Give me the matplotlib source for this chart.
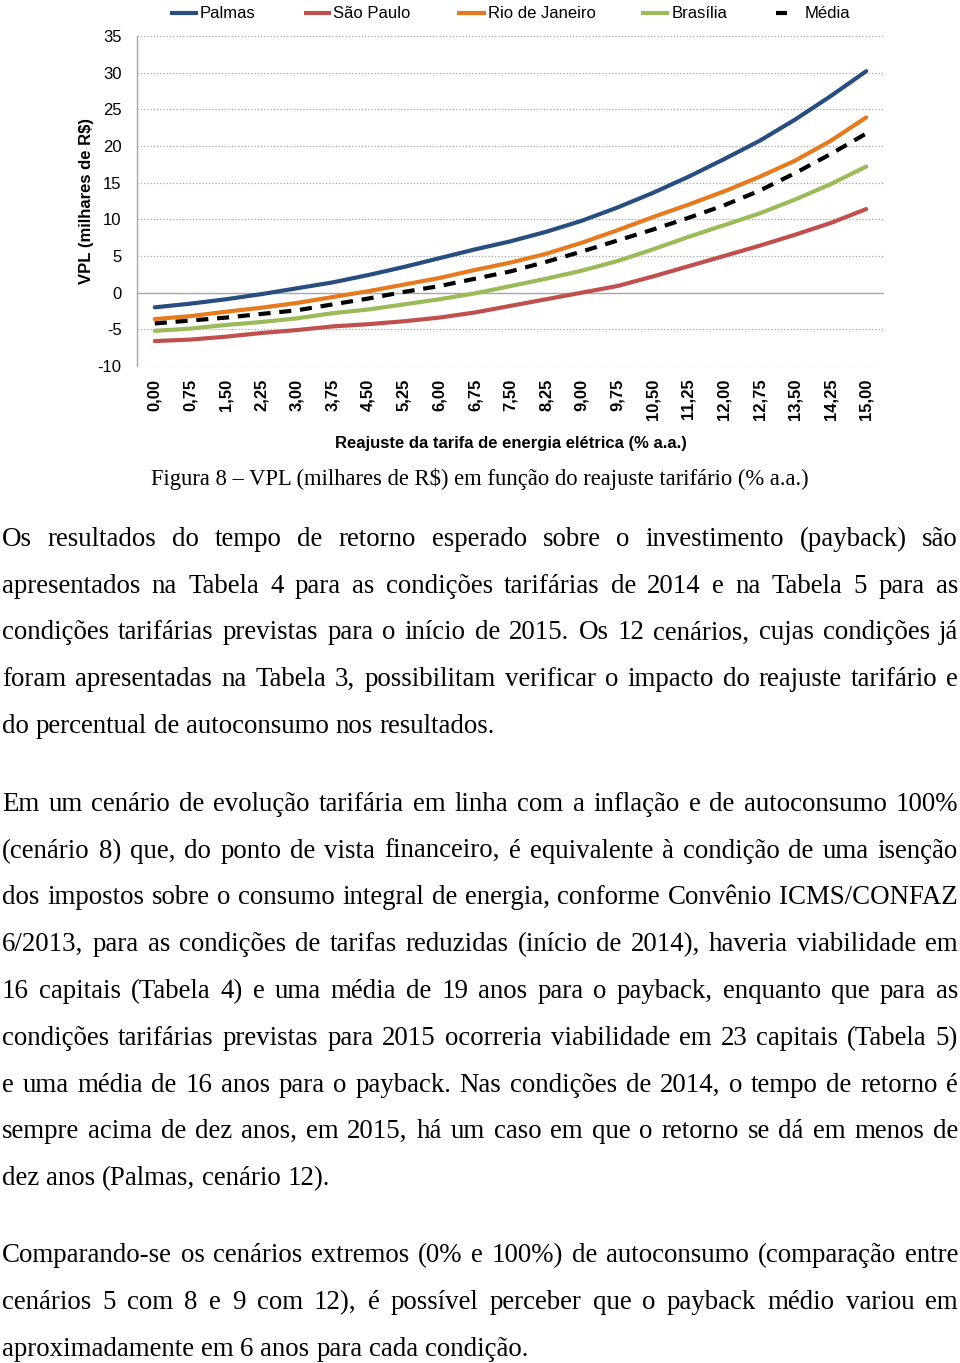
import matplotlib
matplotlib.use('Agg')
import matplotlib.pyplot as plt
from matplotlib.lines import Line2D
import numpy as np

plt.rcParams['axes.unicode_minus'] = False
plt.rcParams['font.family'] = ['Liberation Sans', 'DejaVu Sans']

# ---------------- data ----------------
reajuste = ['0,00', '0,75', '1,50', '2,25', '3,00', '3,75', '4,50', '5,25', '6,00', '6,75',
            '7,50', '8,25', '9,00', '9,75', '10,50', '11,25', '12,00', '12,75', '13,50',
            '14,25', '15,00']
series_names = ['Palmas', 'São Paulo', 'Rio de Janeiro', 'Brasília', 'Média']
palmas = [-2.0, -1.5, -0.9, -0.2, 0.6, 1.4, 2.4, 3.5, 4.7, 5.9, 7.0, 8.3, 9.8, 11.6,
          13.6, 15.8, 18.2, 20.7, 23.6, 26.8, 30.2]
sao_paulo = [-6.6, -6.4, -6.0, -5.5, -5.1, -4.6, -4.3, -3.9, -3.4, -2.7, -1.8, -0.9,
             0.0, 0.9, 2.2, 3.6, 5.0, 6.4, 7.9, 9.5, 11.4]
rio_de_janeiro = [-3.6, -3.2, -2.6, -2.05, -1.4, -0.6, 0.2, 1.1, 2.0, 3.1, 4.1, 5.3,
                  6.8, 8.5, 10.3, 12.0, 13.8, 15.8, 18.0, 20.7, 23.9]
brasilia = [-5.2, -4.9, -4.4, -4.0, -3.5, -2.8, -2.3, -1.6, -0.9, -0.1, 0.9, 1.9,
            3.0, 4.3, 5.9, 7.6, 9.2, 10.8, 12.7, 14.8, 17.2]
media = [-4.2, -3.8, -3.4, -2.9, -2.4, -1.6, -0.8, 0.1, 0.9, 1.9, 2.9, 4.2, 5.6,
         7.1, 8.6, 10.2, 11.9, 13.9, 16.3, 18.9, 21.7]
yticks = [-10, -5, 0, 5, 10, 15, 20, 25, 30, 35]

caption = 'Figura 8 – VPL (milhares de R$) em função do reajuste tarifário (% a.a.)'
paragraphs = [
    ['Os resultados do tempo de retorno esperado sobre o investimento (payback) são',
     'apresentados na Tabela 4 para as condições tarifárias de 2014 e na Tabela 5 para as',
     'condições tarifárias previstas para o início de 2015. Os 12 cenários, cujas condições já',
     'foram apresentadas na Tabela 3, possibilitam verificar o impacto do reajuste tarifário e',
     'do percentual de autoconsumo nos resultados.'],
    ['Em um cenário de evolução tarifária em linha com a inflação e de autoconsumo 100%',
     '(cenário 8) que, do ponto de vista financeiro, é equivalente à condição de uma isenção',
     'dos impostos sobre o consumo integral de energia, conforme Convênio ICMS/CONFAZ',
     '6/2013, para as condições de tarifas reduzidas (início de 2014), haveria viabilidade em',
     '16 capitais (Tabela 4) e uma média de 19 anos para o payback, enquanto que para as',
     'condições tarifárias previstas para 2015 ocorreria viabilidade em 23 capitais (Tabela 5)',
     'e uma média de 16 anos para o payback. Nas condições de 2014, o tempo de retorno é',
     'sempre acima de dez anos, em 2015, há um caso em que o retorno se dá em menos de',
     'dez anos (Palmas, cenário 12).'],
    ['Comparando-se os cenários extremos (0% e 100%) de autoconsumo (comparação entre',
     'cenários 5 com 8 e 9 com 12), é possível perceber que o payback médio variou em',
     'aproximadamente em 6 anos para cada condição.'],
]

# ---------------- layout helpers ----------------
W, H = 960, 1363
fig = plt.figure(figsize=(W / 100, H / 100), dpi=100)
fig.patch.set_facecolor('white')


def fx(px):
    return px / W


def fy(py):
    return 1 - py / H


ax_left, ax_right, ax_top, ax_bottom = 137, 884, 36, 366
ax = fig.add_axes([fx(ax_left), fy(ax_bottom), (ax_right - ax_left) / W,
                   (ax_bottom - ax_top) / H])

colors = ['#274E7F', '#C0504D', '#E57A1F', '#9BBB59', '#000000']
values = [palmas, sao_paulo, rio_de_janeiro, brasilia, media]
xpos = np.arange(len(reajuste))

for name, vals, col in zip(series_names, values, colors):
    if name == 'Média':
        ax.plot(xpos, vals, color=col, lw=3.0, dashes=(2.9, 2.1),
                dash_capstyle='butt', zorder=5)
    else:
        ax.plot(xpos, vals, color=col, lw=3.0, solid_capstyle='round', zorder=4)

ax.set_xlim(-0.5, len(reajuste) - 0.5)
ax.set_ylim(-10, 35)
ax.set_yticks(yticks)
ax.set_yticklabels([str(v) for v in yticks], fontsize=12)
ax.set_xticks(xpos)
ax.set_xticklabels(reajuste, rotation=90, fontsize=12, fontweight='bold')
ax.tick_params(axis='y', length=0, pad=11)
ax.tick_params(axis='x', length=0, pad=9)
for s in ['top', 'right', 'bottom']:
    ax.spines[s].set_visible(False)
ax.spines['left'].set_color('#A6A6A6')
ax.spines['left'].set_linewidth(1.0)
for v in yticks:
    if v == 0:
        ax.axhline(v, color='#A6A6A6', lw=1.0, zorder=1)
    else:
        ax.axhline(v, color='#A6A6A6', lw=0.9, ls=(0, (1, 1.6)), zorder=1)

ax.set_xlabel('Reajuste da tarifa de energia elétrica (% a.a.)', fontsize=12,
              fontweight='bold', va='center')
ax.xaxis.set_label_coords(0.5, -(443 - ax_bottom) / (ax_bottom - ax_top))
ax.set_ylabel('VPL (milhares de R$)', fontsize=12, fontweight='bold', va='center')
ax.yaxis.set_label_coords((86 - ax_left) / (ax_right - ax_left), 0.5)

# ---------------- legend (drawn manually) ----------------
leg_y = 13
handle_px = [(170, 198), (304, 331), (457, 486), (641, 669), (776, 787)]
text_px = [200, 333, 488, 672, 805]
for name, col, (h0, h1), tx in zip(series_names, colors, handle_px, text_px):
    fig.add_artist(Line2D([fx(h0), fx(h1)], [fy(leg_y), fy(leg_y)],
                          transform=fig.transFigure, color=col, lw=3.0,
                          solid_capstyle='butt'))
    fig.text(fx(tx), fy(leg_y), name, fontsize=12, va='center', ha='left')

# ---------------- caption and body text ----------------
serif = ['Liberation Serif', 'DejaVu Serif']
fig.text(fx(480), fy(485), caption, fontsize=16.3, family=serif,
         ha='center', va='baseline')

body_fs = 19.4
text_left, text_right = 2, 958
fig.canvas.draw()
renderer = fig.canvas.get_renderer()

probe_a = fig.text(0, 0, 'n n', fontsize=body_fs, family=serif)
probe_b = fig.text(0, 0, 'nn', fontsize=body_fs, family=serif)
space_w = (probe_a.get_window_extent(renderer).width
           - probe_b.get_window_extent(renderer).width)
probe_a.remove()
probe_b.remove()

par_start = [546, 811, 1262]
line_step = 46.75
for par, y0 in zip(paragraphs, par_start):
    for i, line in enumerate(par):
        yb = y0 + i * line_step
        words = line.split(' ')
        texts = [fig.text(0, fy(yb), w, fontsize=body_fs, family=serif,
                          ha='left', va='baseline') for w in words]
        widths = [t.get_window_extent(renderer).width for t in texts]
        last = (i == len(par) - 1)
        if last or len(words) == 1:
            gap = space_w
        else:
            gap = (text_right - text_left - sum(widths)) / (len(words) - 1)
        xcur = text_left
        for t, w in zip(texts, widths):
            t.set_x(fx(xcur))
            xcur += w + gap

fig.savefig('out.png', dpi=100, facecolor='white')
